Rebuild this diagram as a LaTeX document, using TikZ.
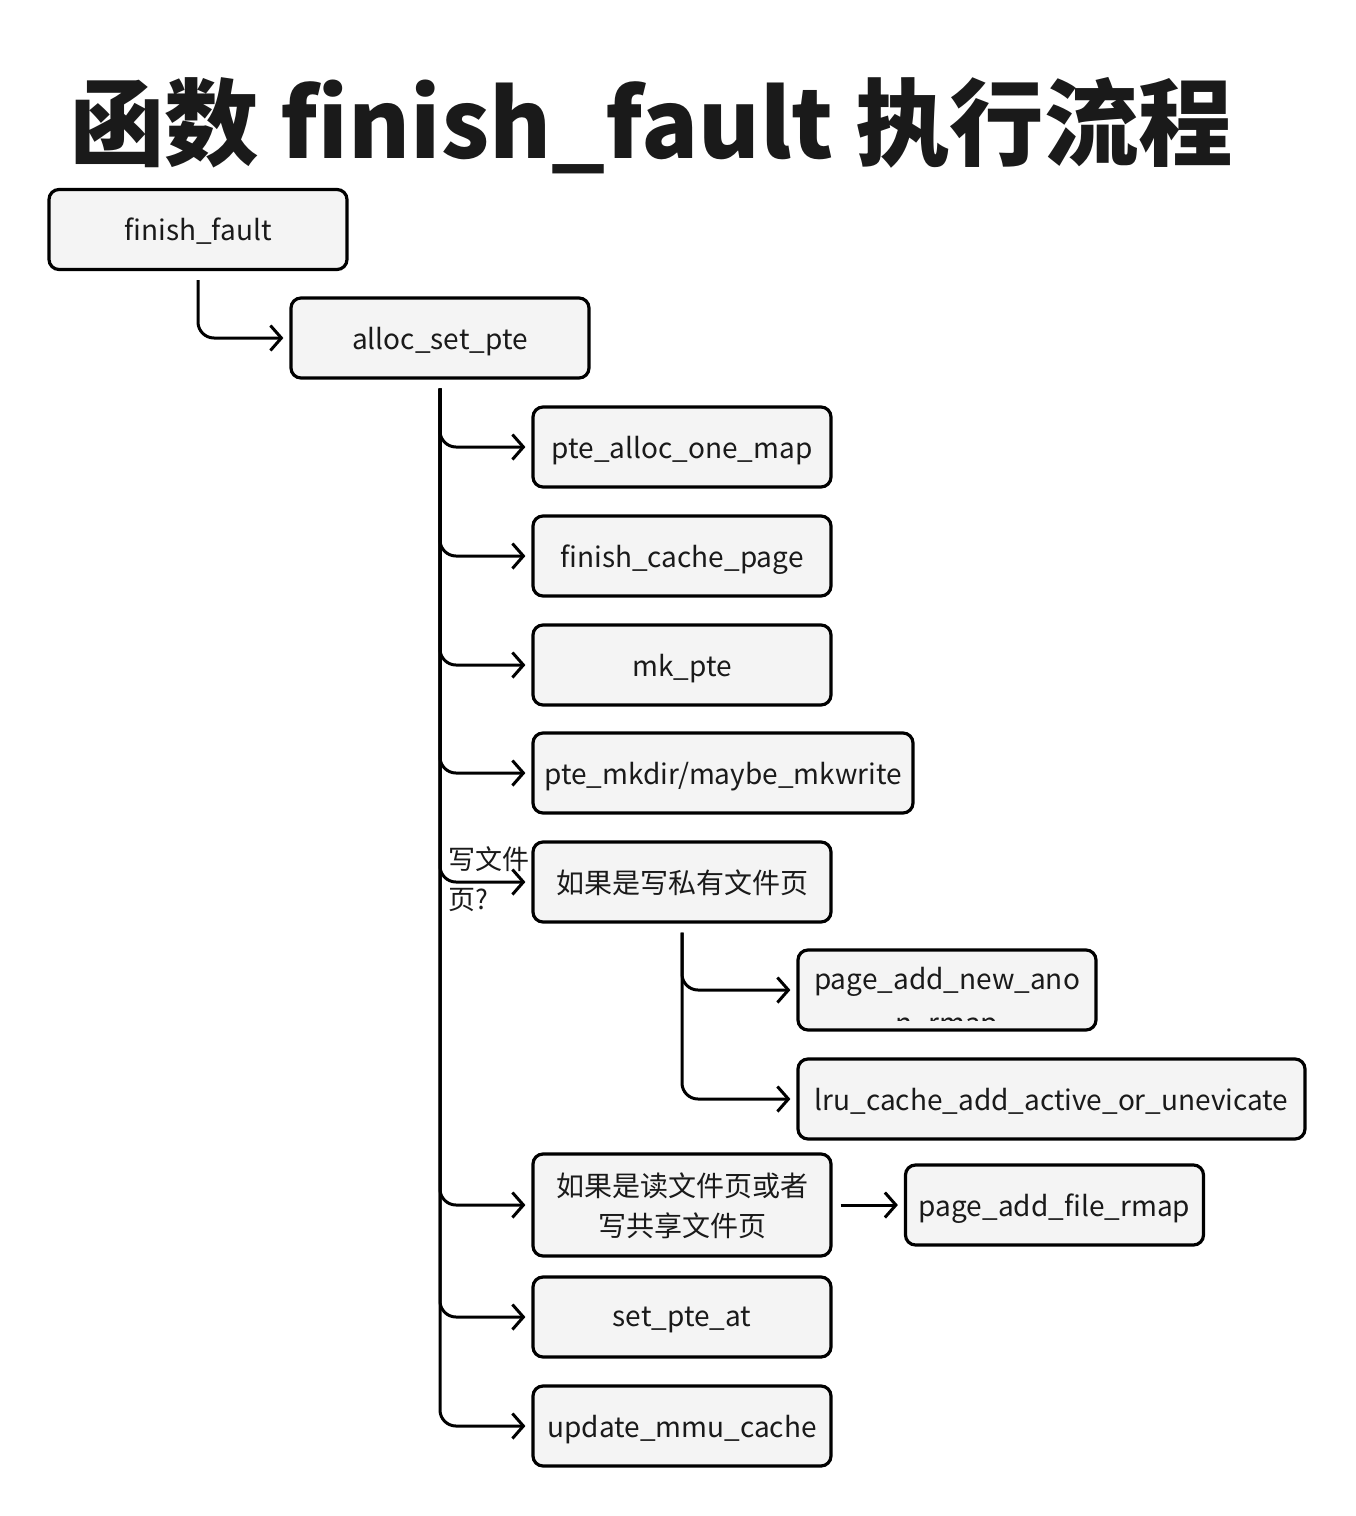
\documentclass[tikz,border=0pt]{standalone}
\usepackage{fontspec}
\setmainfont{Noto Sans CJK SC}
\usetikzlibrary{arrows.meta}
\definecolor{boxfill}{HTML}{F4F4F4}
\definecolor{ink}{HTML}{1A1A1A}
\tikzset{
  box/.style={draw=black, line width=3.2pt, rounded corners=10pt, fill=boxfill,
    text=ink, font=\fontsize{28}{38}\selectfont, minimum height=80pt,
    minimum width=298pt, inner sep=0pt, align=center, text depth=0pt},
  conn/.style={draw=black, line width=3pt, rounded corners=16pt,
    -{Straight Barb[length=11pt,width=25pt]}},
}
\begin{document}
\begin{tikzpicture}[x=1pt,y=1pt]
\useasboundingbox (0,0) rectangle (1356,-1516);
\node[anchor=west, inner sep=0pt, text=ink, font=\fontsize{94.5}{104}\selectfont\bfseries] (title) at (70,-126) {函数 finish\_fault 执行流程};

\node[box] (ff) at (198,-229.5) {finish\_fault};
\node[box] (asp) at (440,-338) {alloc\_set\_pte};
\node[box] (paom) at (682,-447) {pte\_alloc\_one\_map};
\node[box] (fcp) at (682,-556) {finish\_cache\_page};
\node[box] (mk) at (682,-665) {mk\_pte};
\node[box, minimum width=380pt] (mkw) at (723,-773) {pte\_mkdir/maybe\_mkwrite};
\node[box] (wp) at (682,-882) {如果是写私有文件页};
\node[box] (pana) at (947,-990) {};
\begin{scope}
  \clip (800,-952) rectangle (1094,-1020);
  \node[text=ink, font=\fontsize{28}{44}\selectfont, align=center, anchor=north, inner sep=0pt] (panat) at (947,-967) {page\_add\_new\_ano\\n\_rmap};
\end{scope}
\node[box, minimum width=507pt] (lru) at (1051.5,-1099) {lru\_cache\_add\_active\_or\_unevicate};
\node[box, minimum height=102pt, font=\fontsize{28}{40}\selectfont] (rd) at (682,-1205) {如果是读文件页或者\\写共享文件页};
\node[box] (pafr) at (1054.5,-1205) {page\_add\_file\_rmap};
\node[box] (spa) at (682,-1317) {set\_pte\_at};
\node[box] (umc) at (682,-1426) {update\_mmu\_cache};

\node[anchor=north west, inner sep=0pt, text=ink, align=left, font=\fontsize{27}{40}\selectfont] (lbl) at (448,-846) {写文件\\页?};

\draw[conn] ([yshift=-9pt]ff.south) |- ([xshift=-6pt]asp.west);
\foreach \n in {paom,fcp,mk,mkw,wp,rd,spa,umc}
  \draw[conn] ([yshift=-9pt]asp.south) |- ([xshift=-6pt]\n.west);
\foreach \n in {pana,lru}
  \draw[conn] ([yshift=-9pt]wp.south) |- ([xshift=-6pt]\n.west);
\draw[conn] ([xshift=8pt]rd.east) -- ([xshift=-6pt]pafr.west);
\end{tikzpicture}
\end{document}
